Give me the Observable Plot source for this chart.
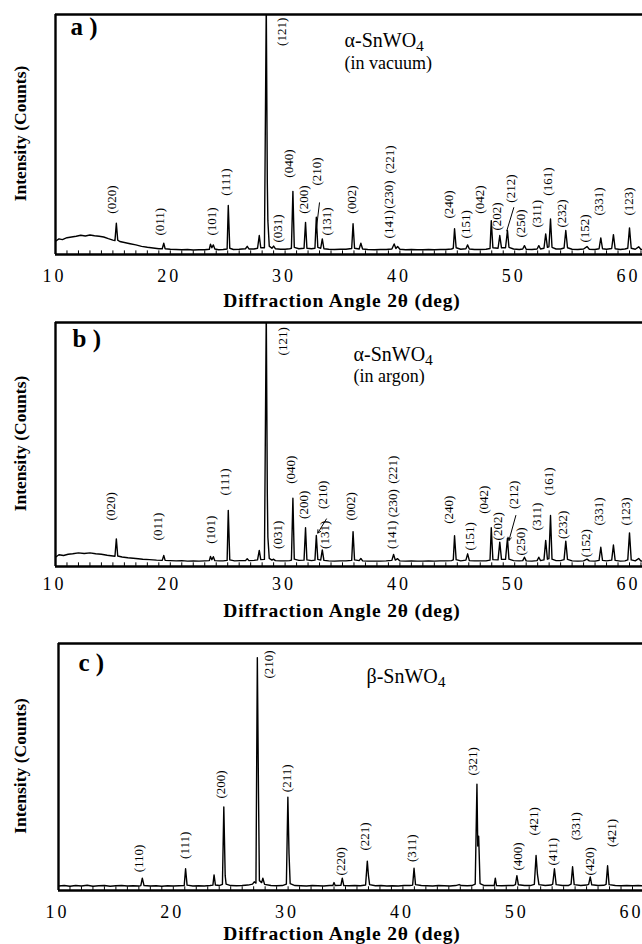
<!DOCTYPE html>
<html><head><meta charset="utf-8">
<script src="https://cdn.jsdelivr.net/npm/d3@7"></script>
<script src="https://cdn.jsdelivr.net/npm/@observablehq/plot@0.6"></script>
<style>
body{margin:0;background:#fff;}
#wrap{position:relative;width:642px;height:944px;overflow:hidden;background:#fff;}
.panel{position:absolute;left:0;}
.panel g[aria-label="x-axis tick label"] text{letter-spacing:3px;}
</style></head><body><div id="wrap"></div>
<script>
const SERIF = "'Liberation Serif','Times New Roman',Times,serif";

// ---- data (2θ in degrees, intensity in relative units, 0..100 = panel height) ----
const majorTicks = [10, 20, 30, 40, 50, 60];
const minorTicks = [10,11,12,13,14,15,16,17,18,19,20,21,22,23,24,25,26,27,28,29,30,31,32,33,34,35,36,37,38,39,40,41,42,43,44,45,46,47,48,49,50,51,52,53,54,55,56,57,58,59,60,61];
const axisTitle = "Diffraction Angle 2θ (deg)";
const yTitle = "Intensity (Counts)";

const patternA = [[10.0,5.5],[10.3,6.5],[10.6,6.2],[11.0,7.0],[11.4,7.3],[11.8,7.6],[12.2,8.0],[12.6,7.7],[13.0,8.1],[13.4,7.8],[13.8,7.6],[14.2,7.3],[14.6,6.6],[15.0,6.0],[15.18,5.8],[15.3,13.0],[15.42,6.0],[15.6,5.4],[16.0,5.0],[16.5,4.5],[17.0,4.0],[17.5,3.4],[18.0,3.0],[18.5,2.7],[19.0,2.4],[19.3,2.4],[19.43,4.7],[19.55,2.4],[20.0,2.2],[20.5,2.1],[21.0,2.0],[21.5,2.1],[22.0,1.9],[22.5,2.0],[23.0,2.0],[23.4,2.2],[23.5,4.3],[23.62,2.8],[23.75,4.0],[23.88,2.3],[24.2,2.0],[24.6,2.1],[24.95,2.3],[25.05,20.4],[25.18,2.6],[25.5,2.1],[26.0,2.2],[26.55,2.4],[26.7,3.4],[26.85,2.3],[27.3,2.3],[27.6,2.6],[27.75,7.9],[27.88,2.8],[28.2,2.8],[28.36,105],[28.45,30],[28.5,14],[28.62,3.5],[28.85,2.6],[29.0,3.5],[29.15,2.4],[29.6,2.2],[30.0,2.2],[30.4,2.4],[30.55,2.6],[30.68,26.3],[30.8,3.0],[31.2,2.4],[31.65,2.6],[31.78,13.4],[31.9,2.6],[32.3,2.4],[32.6,2.6],[32.72,15.5],[32.85,3.0],[33.1,2.6],[33.24,6.5],[33.38,2.4],[33.8,2.2],[34.3,2.1],[34.8,2.2],[35.3,2.2],[35.8,2.5],[35.92,12.8],[36.05,2.6],[36.45,2.3],[36.6,4.7],[36.75,2.3],[37.2,2.1],[37.8,2.0],[38.3,2.1],[38.8,2.1],[39.3,2.3],[39.5,4.4],[39.65,2.5],[39.8,3.3],[40.0,2.2],[40.5,2.0],[41.0,2.1],[41.5,2.0],[42.0,2.0],[42.5,2.1],[43.0,2.0],[43.5,2.1],[44.0,2.1],[44.5,2.3],[44.65,2.6],[44.76,10.7],[44.9,2.8],[45.3,2.2],[45.75,2.4],[45.9,4.0],[46.05,2.3],[46.5,2.1],[47.0,2.1],[47.5,2.2],[47.85,2.5],[47.96,14.1],[48.1,2.8],[48.55,2.6],[48.7,7.9],[48.85,2.8],[49.2,2.8],[49.37,10.0],[49.5,3.0],[49.9,2.3],[50.4,2.1],[50.7,2.3],[50.85,3.7],[51.0,2.2],[51.5,2.1],[51.95,2.3],[52.1,3.7],[52.25,2.3],[52.55,2.6],[52.7,8.6],[52.85,3.0],[52.98,3.2],[53.12,14.8],[53.25,3.0],[53.6,2.3],[54.0,2.3],[54.3,2.7],[54.45,10.0],[54.6,2.8],[55.0,2.2],[55.5,2.1],[56.0,2.3],[56.3,3.3],[56.5,2.2],[57.0,2.1],[57.35,2.4],[57.5,6.9],[57.65,2.4],[58.0,2.2],[58.45,2.5],[58.6,8.3],[58.75,2.4],[59.2,2.1],[59.6,2.3],[59.85,2.6],[60.0,11.1],[60.15,2.6],[60.5,2.2],[60.8,3.2],[61.0,2.1],[61.2,2.2]];

const patternB = [[10.0,3.8],[10.3,4.8],[10.7,4.5],[11.1,5.0],[11.5,5.2],[12.0,5.6],[12.5,5.3],[13.0,5.6],[13.5,5.2],[14.0,5.0],[14.5,4.6],[15.0,4.3],[15.18,4.2],[15.3,11.3],[15.42,4.3],[15.8,3.9],[16.3,3.6],[17.0,3.3],[17.6,3.0],[18.2,2.8],[18.8,2.6],[19.3,2.5],[19.43,4.5],[19.55,2.5],[20.0,2.4],[20.5,2.3],[21.0,2.4],[21.5,2.2],[22.0,2.3],[22.5,2.2],[23.0,2.3],[23.4,2.4],[23.5,4.1],[23.62,2.8],[23.75,4.0],[23.88,2.4],[24.3,2.3],[24.6,2.3],[24.95,2.5],[25.05,23.0],[25.18,2.7],[25.6,2.3],[26.1,2.4],[26.55,2.4],[26.7,3.2],[26.85,2.4],[27.3,2.5],[27.6,2.7],[27.75,6.6],[27.88,2.8],[28.2,2.9],[28.36,105],[28.45,30],[28.5,12],[28.62,3.3],[28.85,2.6],[29.0,3.0],[29.15,2.4],[29.6,2.3],[30.0,2.3],[30.4,2.4],[30.55,2.6],[30.68,28.0],[30.8,3.0],[31.2,2.5],[31.65,2.6],[31.78,15.9],[31.9,2.7],[32.3,2.4],[32.6,2.6],[32.72,12.7],[32.85,2.9],[33.1,2.6],[33.24,6.8],[33.38,2.5],[33.8,2.3],[34.3,2.2],[34.8,2.3],[35.3,2.3],[35.8,2.5],[35.92,14.3],[36.05,2.7],[36.45,2.4],[36.6,3.3],[36.75,2.3],[37.2,2.2],[37.8,2.2],[38.3,2.2],[38.8,2.3],[39.3,2.5],[39.45,4.9],[39.6,2.6],[39.8,3.2],[40.0,2.3],[40.5,2.2],[41.0,2.3],[41.5,2.2],[42.0,2.2],[42.5,2.3],[43.0,2.2],[43.5,2.3],[44.0,2.3],[44.5,2.4],[44.65,2.7],[44.76,12.6],[44.9,2.8],[45.3,2.3],[45.75,2.6],[45.9,5.2],[46.05,2.4],[46.5,2.3],[47.0,2.3],[47.5,2.3],[47.85,2.6],[47.96,15.9],[48.1,2.8],[48.55,2.7],[48.7,10.0],[48.85,2.9],[49.2,2.9],[49.37,11.6],[49.5,3.0],[49.9,2.4],[50.4,2.3],[50.7,2.4],[50.85,3.8],[51.0,2.3],[51.5,2.2],[51.95,2.4],[52.1,3.8],[52.25,2.4],[52.55,2.7],[52.7,10.7],[52.85,3.0],[52.98,3.2],[53.12,20.9],[53.25,3.0],[53.6,2.4],[54.0,2.4],[54.3,2.8],[54.45,10.4],[54.6,2.9],[55.0,2.3],[55.5,2.2],[56.0,2.3],[56.3,3.0],[56.5,2.3],[57.0,2.2],[57.35,2.5],[57.5,7.9],[57.65,2.5],[58.0,2.3],[58.45,2.6],[58.6,8.8],[58.75,2.5],[59.2,2.2],[59.6,2.3],[59.85,2.7],[60.0,13.8],[60.15,2.7],[60.5,2.3],[60.8,3.3],[61.0,2.2],[61.2,2.3]];

const patternC = [[10.0,1.8],[10.5,2.0],[11.0,1.7],[11.5,2.0],[12.0,1.8],[12.5,2.1],[13.0,1.7],[13.5,1.9],[14.0,2.0],[14.5,1.7],[15.0,1.9],[15.5,2.0],[16.0,1.8],[16.5,1.9],[17.0,1.8],[17.17,2.0],[17.3,5.0],[17.45,2.0],[18.0,1.8],[18.5,1.9],[19.0,1.7],[19.5,1.9],[20.0,1.8],[20.5,1.9],[20.95,2.0],[21.07,8.8],[21.2,2.2],[21.7,1.8],[22.2,1.9],[22.7,1.8],[23.2,2.0],[23.45,2.2],[23.55,6.3],[23.67,2.2],[24.0,2.0],[24.28,2.5],[24.4,33.8],[24.52,6.0],[24.6,2.6],[25.0,2.0],[25.5,1.9],[26.0,2.0],[26.5,2.2],[26.9,2.6],[27.05,3.5],[27.2,3.0],[27.32,94.3],[27.42,40],[27.5,4.0],[27.7,3.2],[27.8,5.0],[27.95,2.5],[28.5,2.0],[29.0,1.9],[29.5,2.0],[29.85,2.6],[29.98,37.8],[30.08,15],[30.18,2.8],[30.6,2.0],[31.1,1.9],[31.6,1.8],[32.1,2.0],[32.6,1.9],[33.1,1.8],[33.6,2.0],[33.9,2.0],[34.0,3.2],[34.1,2.0],[34.6,2.1],[34.72,5.0],[34.85,2.0],[35.3,1.9],[35.8,2.0],[36.3,1.9],[36.75,2.2],[36.9,11.9],[37.0,6.0],[37.1,2.4],[37.6,1.9],[38.1,2.0],[38.6,1.8],[39.1,1.9],[39.6,1.8],[40.1,2.0],[40.6,2.0],[40.85,2.2],[40.97,9.0],[41.1,2.4],[41.6,2.0],[42.1,1.9],[42.6,1.8],[43.1,2.0],[43.6,1.9],[44.1,1.8],[44.6,2.0],[44.9,2.4],[45.1,2.0],[45.6,1.9],[46.0,2.0],[46.3,2.6],[46.45,43],[46.52,18],[46.6,22],[46.72,2.8],[47.1,2.0],[47.6,2.0],[47.95,2.0],[48.05,5.0],[48.15,2.0],[48.6,1.9],[49.2,2.0],[49.6,2.0],[49.8,2.4],[49.93,6.0],[50.06,2.3],[50.6,2.0],[51.1,2.0],[51.45,2.5],[51.6,14.2],[51.72,6.5],[51.85,2.4],[52.4,2.0],[52.9,2.2],[53.05,2.6],[53.2,8.8],[53.35,2.4],[53.9,2.0],[54.4,2.0],[54.65,2.6],[54.78,9.6],[54.92,2.4],[55.5,2.0],[56.0,2.2],[56.18,2.5],[56.32,5.5],[56.45,2.3],[57.0,2.0],[57.5,2.1],[57.7,2.5],[57.83,10.0],[57.96,2.4],[58.5,2.0],[59.0,1.9],[59.5,2.0],[60.0,1.9],[60.5,2.0],[61.0,1.9]];

// peak labels: [hkl, 2θ, intensity at label foot]
const labelsA = [["(121)",29.75,86.9],["(020)",14.95,17.0],["(011)",19.1,7.9],["(101)",23.6,7.9],["(111)",24.8,24.5],["(031)",29.4,5.0],["(040)",30.3,32.0],["(200)",31.65,17.0],["(210)",32.75,28.7],["(131)",33.6,7.9],["(002)",35.8,17.0],["(141)",39.0,6.7],["(230)",39.05,19.1],["(221)",39.1,33.7],["(240)",44.25,15.0],["(151)",45.7,6.7],["(042)",47.0,17.0],["(202)",48.4,10.0],["(212)",49.7,21.6],["(250)",50.5,7.1],["(311)",51.9,11.2],["(161)",52.9,24.5],["(232)",54.1,11.2],["(152)",56.1,5.0],["(331)",57.3,16.2],["(123)",59.9,16.2]];
const labelsB = [["(121)",29.8,86.5],["(020)",14.85,18.9],["(011)",18.95,10.7],["(101)",23.55,9.3],["(111)",24.75,29.1],["(031)",29.4,7.2],["(040)",30.5,33.9],["(200)",31.65,19.5],["(210)",33.3,23.6],["(131)",33.5,7.2],["(002)",35.7,18.9],["(141)",39.3,7.2],["(230)",39.4,20.2],["(221)",39.4,33.9],["(240)",44.3,17.5],["(151)",46.1,6.6],["(042)",47.3,21.6],["(202)",48.55,10.7],["(212)",49.95,23.6],["(250)",50.5,4.5],["(311)",51.95,14.8],["(161)",52.95,29.1],["(232)",54.15,11.3],["(152)",56.2,3.8],["(331)",57.35,16.8],["(123)",59.7,16.8]];
const labelsC = [["(110)",17.0,7.4],["(111)",21.0,12.8],["(200)",24.1,37.2],["(210)",28.35,85.8],["(211)",29.85,39.8],["(220)",34.6,6.1],["(221)",36.65,16.2],["(311)",40.8,11.5],["(321)",46.1,46.6],["(400)",50.0,8.1],["(421)",51.4,22.3],["(411)",53.05,10.1],["(331)",55.1,20.3],["(420)",56.3,6.1],["(421)",58.2,17.6]];

// leader lines: [x1, y1, x2, y2]
const leadersA = [[33.0,21.7,32.67,8.6],[49.93,19.7,49.3,9.7]];
const leadersB = [[33.6,19.5,32.85,13.7],[50.1,20.9,49.5,10.7]];

const panels = [
  {pattern: patternA, labels: labelsA, leaders: leadersA, arrows: false, letter: "a )", title: "α-SnWO4", sub: "(in vacuum)",
   top: 0, height: 320, mt: 14, mb: 66, ml: 55, letterDx: 15, letterDy: 3, titleDx: 289, titleDy: 18, subDy: 42, tickPad: 15, xTitleDy: 46, yTitleDx: -35},
  {pattern: patternB, labels: labelsB, leaders: leadersB, arrows: true, letter: "b )", title: "α-SnWO4", sub: "(in argon)",
   top: 310, height: 320, mt: 12, mb: 64, ml: 55, letterDx: 17, letterDy: 7, titleDx: 298, titleDy: 24.5, subDy: 47, tickPad: 11, xTitleDy: 44, yTitleDx: -35},
  {pattern: patternC, labels: labelsC, leaders: [], arrows: false, letter: "c )", title: "β-SnWO4", sub: null,
   top: 620, height: 324, mt: 23, mb: 54, ml: 58, letterDx: 20, letterDy: 10, titleDx: 308, titleDy: 25.5, subDy: 0, tickPad: 15, xTitleDy: 43.5, yTitleDx: -38}
];

const wrap = document.getElementById("wrap");
for (const p of panels) {
  const W = 642, pxPerDeg = 11.48;
  const xMax = 10 + (W - p.ml) / pxPerDeg;
  const marks = [
    Plot.ruleX(minorTicks, {y1: 0, y2: 1.5, strokeWidth: 1}),
    Plot.line(p.pattern, {x: d => d[0], y: d => d[1], stroke: "#000", strokeWidth: 1.4, clip: true}),
    Plot.text(p.labels, {x: d => d[1], y: d => d[2], text: d => d[0], rotate: -90, textAnchor: "start", fontSize: 13, fontFamily: SERIF, fill: "#000"}),
    p.arrows
      ? Plot.arrow(p.leaders, {x1: d => d[0], y1: d => d[1], x2: d => d[2], y2: d => d[3], headLength: 5, strokeWidth: 1, stroke: "#000"})
      : Plot.link(p.leaders, {x1: d => d[0], y1: d => d[1], x2: d => d[2], y2: d => d[3], strokeWidth: 1, stroke: "#000"}),
    Plot.ruleX([10], {strokeWidth: 2.4}),
    Plot.ruleY([0, 100], {strokeWidth: 2.4}),
    Plot.axisX(majorTicks, {tickSize: 0, tickPadding: p.tickPad, dx: -1, fontSize: 18, fontFamily: SERIF, label: null, tickFormat: d => String(d)}),
    Plot.text([axisTitle], {frameAnchor: "bottom", textAnchor: "middle", lineAnchor: "middle", dx: -7 - (p.ml - 55) / 2, dy: p.xTitleDy, fontSize: 19.5, fontWeight: "bold", fontFamily: SERIF}),
    Plot.text([yTitle], {frameAnchor: "left", textAnchor: "middle", lineAnchor: "middle", rotate: -90, dx: p.yTitleDx, dy: -1, fontSize: 17.5, fontWeight: "bold", fontFamily: SERIF}),
    Plot.text([p.letter], {frameAnchor: "top-left", textAnchor: "start", lineAnchor: "top", dx: p.letterDx, dy: p.letterDy, fontSize: 25, fontWeight: "bold", fontFamily: SERIF}),
    Plot.text([p.title], {frameAnchor: "top-left", textAnchor: "start", lineAnchor: "top", dx: p.titleDx, dy: p.titleDy, fontSize: 20, fontFamily: SERIF})
  ];
  if (p.sub) marks.push(Plot.text([p.sub], {frameAnchor: "top-left", textAnchor: "start", lineAnchor: "top", dx: p.titleDx, dy: p.subDy, fontSize: 18, fontFamily: SERIF}));
  const chart = Plot.plot({
    width: W, height: p.height,
    marginTop: p.mt, marginBottom: p.mb, marginLeft: p.ml, marginRight: 0,
    x: {domain: [10, xMax], axis: null},
    y: {domain: [0, 100], axis: null},
    style: {background: "none", overflow: "visible", fontFamily: SERIF, color: "#000"},
    marks
  });
  chart.classList.add("panel");
  chart.style.top = p.top + "px";
  d3.select(chart).selectAll("text").each(function() {
    const t = this.textContent;
    // subscript 4 in the chemical formula
    if (/SnWO4$/.test(t)) {
      this.textContent = t.slice(0, -1);
      d3.select(this).append("tspan").attr("dy", "0.25em").attr("font-size", "0.78em").text("4");
    }
    // the printed axis title is set slightly wide
    if (t === axisTitle) d3.select(this).style("letter-spacing", "0.8px");
  });
  wrap.appendChild(chart);
}
</script></body></html>
